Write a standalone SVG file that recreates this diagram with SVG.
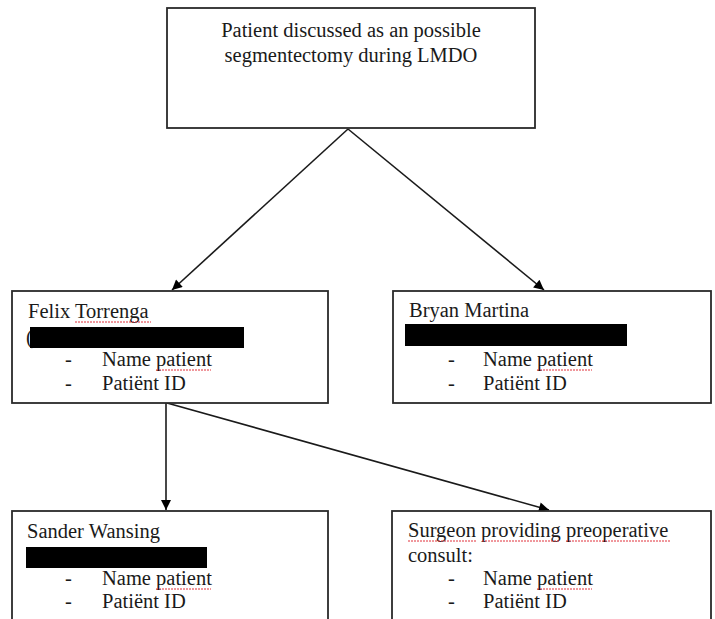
<svg xmlns="http://www.w3.org/2000/svg" width="715" height="619" viewBox="0 0 715 619">
<style>
.box{fill:#fff;stroke:#2a2a2a;stroke-width:1.8}
.t{font-family:"Liberation Serif","Times New Roman",serif;font-size:20.5px;fill:#1a1a1a}
.c{text-anchor:middle}
.bar{fill:#000}
.sq{fill:none;stroke:#e0303a;stroke-width:1;stroke-dasharray:2 1}
.con{fill:none;stroke:#1a1a1a;stroke-width:1.6;marker-end:url(#ah)}
</style>
<defs>
<marker id="ah" viewBox="0 0 10 10" refX="10" refY="5" markerWidth="11" markerHeight="10" markerUnits="userSpaceOnUse" orient="auto">
<path d="M0,0 L10,5 L0,10 Z" fill="#000"/>
</marker>
</defs>
<rect width="715" height="619" fill="#fff"/>
<g id="connectors">
<line class="con" x1="348" y1="129" x2="172" y2="290"/>
<line class="con" x1="348" y1="129" x2="544" y2="290"/>
<line class="con" x1="166" y1="403" x2="166" y2="510"/>
<line class="con" x1="167" y1="403" x2="549" y2="510"/>
</g>
<g id="n-top">
<rect class="box" x="167" y="8" width="368" height="120"/>
<text class="t c" x="351" y="37">Patient discussed as an possible</text>
<text class="t c" x="351" y="62">segmentectomy during LMDO</text>
</g>
<g id="n-felix">
<rect class="box" x="12" y="291" width="316" height="112"/>
<text class="t" x="28" y="318">Felix Torrenga</text>
<path class="sq" d="M75,322 H151"/>
<text class="t" x="26" y="344">(</text>
<rect class="bar" x="30" y="327" width="214" height="21"/>
<text class="t" x="65" y="366">-</text>
<text class="t" x="102" y="366">Name patient</text>
<path class="sq" d="M156,370 H211"/>
<text class="t" x="65" y="390">-</text>
<text class="t" x="102" y="390">Patiënt ID</text>
</g>
<g id="n-bryan">
<rect class="box" x="393" y="291" width="318" height="112"/>
<text class="t" x="409" y="317">Bryan Martina</text>
<rect class="bar" x="405" y="324" width="222" height="22"/>
<text class="t" x="448" y="366">-</text>
<text class="t" x="483" y="366">Name patient</text>
<path class="sq" d="M537,370 H592"/>
<text class="t" x="448" y="390">-</text>
<text class="t" x="483" y="390">Patiënt ID</text>
</g>
<g id="n-sander">
<rect class="box" x="12" y="511" width="316" height="120"/>
<text class="t" x="27" y="538">Sander Wansing</text>
<rect class="bar" x="26" y="547" width="181" height="21"/>
<text class="t" x="65" y="585">-</text>
<text class="t" x="102" y="585">Name patient</text>
<path class="sq" d="M156,589 H211"/>
<text class="t" x="65" y="608">-</text>
<text class="t" x="102" y="608">Patiënt ID</text>
</g>
<g id="n-surgeon">
<rect class="box" x="392" y="511" width="319" height="120"/>
<text class="t" x="408" y="537">Surgeon providing preoperative</text>
<path class="sq" d="M408,541 H476 M482,541 H560 M566,541 H670"/>
<text class="t" x="408" y="562">consult:</text>
<text class="t" x="448" y="585">-</text>
<text class="t" x="483" y="585">Name patient</text>
<path class="sq" d="M537,589 H592"/>
<text class="t" x="448" y="608">-</text>
<text class="t" x="483" y="608">Patiënt ID</text>
</g>
</svg>
